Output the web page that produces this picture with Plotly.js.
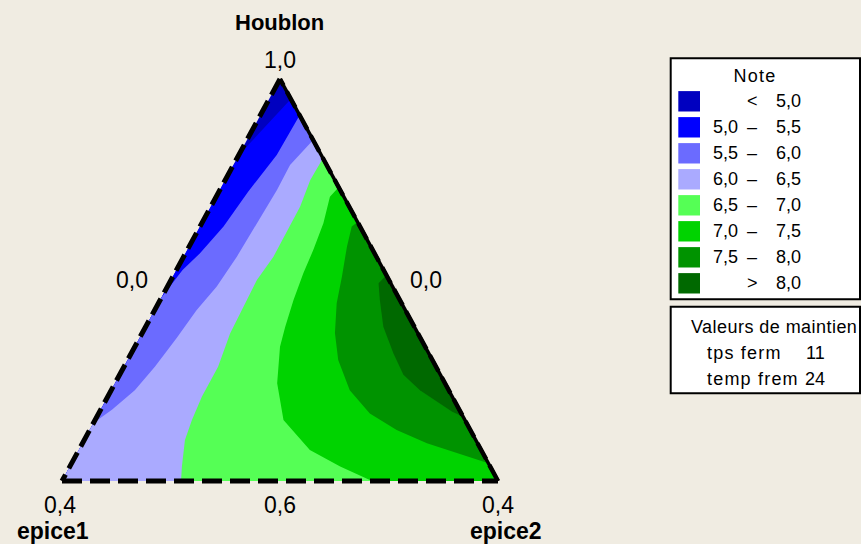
<!DOCTYPE html>
<html>
<head>
<meta charset="utf-8">
<script src="https://cdn.plot.ly/plotly-3.0.1.min.js"></script>
<style>html,body{margin:0;padding:0;background:#F0ECE2;}#chart{width:861px;height:544px;}</style>
</head>
<body>
<div id="chart"></div>
<script>
// ---------- DATA (pseudo-component fractions) ----------
// Contour levels of "Note" and band colours
const levels = ['5,0', '5,5', '6,0', '6,5', '7,0', '7,5', '8,0'];
const bandColors = ['#0000C0', '#0000FF', '#6B6BFF', '#AAAAFF', '#55FF55', '#00D300', '#009300', '#006900'];
const bandLow  = ['',  '5,0', '5,5', '6,0', '6,5', '7,0', '7,5', ''];
const bandSym  = ['<', '–',   '–',   '–',   '–',   '–',   '–',   '>'];
const bandHigh = ['5,0', '5,5', '6,0', '6,5', '7,0', '7,5', '8,0', '8,0'];

// Each contour line: Houblon fraction and epice2 fraction along the line
const c50_houblon = [0.950, 0.886, 0.832, 0.782];
const c50_epice2  = [0.050, 0.026, 0.008, 0.000];

const c55_houblon = [0.910, 0.811, 0.719, 0.633, 0.566, 0.525, 0.458];
const c55_epice2  = [0.090, 0.087, 0.067, 0.054, 0.033, 0.014, 0.000];

const c60_houblon = [0.848, 0.786, 0.724, 0.641, 0.558, 0.483, 0.425, 0.356, 0.284, 0.226, 0.177, 0.144];
const c60_epice2  = [0.152, 0.130, 0.131, 0.126, 0.122, 0.113, 0.096, 0.085, 0.071, 0.054, 0.026, 0.000];

const c65_houblon = [0.803, 0.749, 0.682, 0.624, 0.558, 0.500, 0.434, 0.367, 0.338, 0.284, 0.210, 0.152, 0.102, 0.036, 0.000];
const c65_epice2  = [0.197, 0.195, 0.205, 0.206, 0.206, 0.197, 0.199, 0.202, 0.207, 0.216, 0.216, 0.222, 0.231, 0.257, 0.273];

const c70_houblon = [0.731, 0.707, 0.641, 0.575, 0.517, 0.450, 0.384, 0.334, 0.243, 0.152, 0.077, 0.036, 0.000];
const c70_epice2  = [0.269, 0.261, 0.279, 0.289, 0.295, 0.306, 0.320, 0.333, 0.372, 0.432, 0.530, 0.620, 0.711];

const c75_houblon = [0.644, 0.633, 0.583, 0.508, 0.442, 0.368, 0.301, 0.226, 0.168, 0.127, 0.094, 0.069, 0.044];
const c75_epice2  = [0.356, 0.348, 0.362, 0.388, 0.409, 0.442, 0.483, 0.547, 0.622, 0.704, 0.790, 0.871, 0.956];

const c80_houblon = [0.512, 0.492, 0.450, 0.384, 0.318, 0.264, 0.226, 0.193, 0.172, 0.160];
const c80_epice2  = [0.488, 0.480, 0.504, 0.545, 0.601, 0.651, 0.708, 0.770, 0.809, 0.840];

// Vertex and side tick labels
const vertexNames = ['Houblon', 'epice1', 'epice2'];
const topTick = '1,0';
const sideTicks = ['0,0', '0,0'];
const bottomTicks = ['0,4', '0,6', '0,4'];

// Hold values
const holdNames = ['tps ferm', 'temp frem'];
const holdValues = ['11', '24'];
const holdTitle = 'Valeurs de maintien';
const legendTitle = 'Note';

// ---------- BUILD ----------
const W = 861, H = 544;
const X0 = 62, X1 = 498, YB = 481, YT = 79, PAD = 0.05;
const FONT = 'Liberation Sans, Arial, sans-serif';

function tx(h, e2) { return e2 + h / 2; }
function ty(h) { return h; }

const corner = { T: [1, 0], L: [0, 0], R: [0, 1] }; // [houblon, epice2]

const contours = [
  [c50_houblon, c50_epice2, ['L', 'R']],
  [c55_houblon, c55_epice2, ['L', 'R']],
  [c60_houblon, c60_epice2, ['L', 'R']],
  [c65_houblon, c65_epice2, ['R']],
  [c70_houblon, c70_epice2, ['R']],
  [c75_houblon, c75_epice2, []],
  [c80_houblon, c80_epice2, []]
];

const traces = [];
traces.push({
  x: ['T', 'L', 'R', 'T'].map(k => tx(corner[k][0], corner[k][1])),
  y: ['T', 'L', 'R', 'T'].map(k => ty(corner[k][0])),
  mode: 'lines', fill: 'toself', fillcolor: bandColors[0],
  line: { width: 0, color: bandColors[0] }, hoverinfo: 'skip', showlegend: false
});
contours.forEach((c, i) => {
  const hs = c[0].slice(), es = c[1].slice();
  c[2].forEach(k => { hs.push(corner[k][0]); es.push(corner[k][1]); });
  hs.push(c[0][0]); es.push(c[1][0]);
  traces.push({
    x: hs.map((h, j) => tx(h, es[j])),
    y: hs.map(h => ty(h)),
    mode: 'lines', fill: 'toself', fillcolor: bandColors[i + 1],
    line: { width: 0, color: bandColors[i + 1] }, hoverinfo: 'skip', showlegend: false,
    name: levels[i]
  });
});

function edge(a, b, dash, width) {
  return {
    x: [tx(corner[a][0], corner[a][1]), tx(corner[b][0], corner[b][1])],
    y: [ty(corner[a][0]), ty(corner[b][0])],
    mode: 'lines', line: { color: '#000', width: width, dash: dash },
    hoverinfo: 'skip', showlegend: false
  };
}
traces.push(edge('T', 'R', 'solid', 3.5));
traces.push(edge('R', 'T', '18px,7px', 4.5));
traces.push(edge('T', 'L', '18px,7px', 5));
traces.push(edge('L', 'R', '20px,8px', 5));

const fx = p => p / W;
const fy = p => 1 - p / H;

const annotations = [];
const spaced = {};
function txt(text, x, y, size, opts, sp) {
  const o = Object.assign({
    text: text, xref: 'paper', yref: 'paper', x: fx(x), y: fy(y),
    xanchor: 'center', yanchor: 'middle', showarrow: false,
    font: { family: FONT, size: size, color: '#000' }
  }, opts || {});
  if (sp) spaced[annotations.length] = { n: text.length, anchor: o.xanchor, ls: sp };
  annotations.push(o);
}
txt('<b>' + vertexNames[0] + '</b>', 279.5, 23, 22);
txt('<b>' + vertexNames[1] + '</b>', 52.5, 531, 23);
txt('<b>' + vertexNames[2] + '</b>', 506, 531, 23);
txt(topTick, 279.6, 60, 23);
txt(sideTicks[0], 132, 280, 23);
txt(sideTicks[1], 426, 280, 23);
txt(bottomTicks[0], 59.6, 505, 23);
txt(bottomTicks[1], 279.6, 505, 23);
txt(bottomTicks[2], 497.7, 505, 23);

const shapes = [];
function rect(x0, y0, x1, y1, fill, lw, lc) {
  shapes.push({ type: 'rect', xref: 'paper', yref: 'paper',
    x0: fx(x0), x1: fx(x1), y0: fy(y1), y1: fy(y0),
    fillcolor: fill, line: { width: lw, color: lc || '#000' }, layer: 'below' });
}
rect(670.7, 58.3, 860, 299.3, '#FFFFFF', 2);
txt(legendTitle, 755, 76, 18, null, 1.2);
bandColors.forEach((col, k) => {
  const yc = 101.3 + 26 * k;
  rect(678.3, yc - 10.2, 700, yc + 10.2, col, 0);
  if (bandLow[k]) txt(bandLow[k], 740, yc, 18, { xanchor: 'right' });
  txt(bandSym[k], 752, yc, 18);
  txt(bandHigh[k], 802.5, yc, 18, { xanchor: 'right' });
});
rect(670.7, 306.7, 860, 393.3, '#FFFFFF', 2);
txt(holdTitle, 689, 327, 18, { xanchor: 'left' }, 0.45);
holdNames.forEach((n, k) => {
  const yc = 353.3 + 26 * k;
  txt(n, 705, yc, 18, { xanchor: 'left' }, 1.2);
  txt(holdValues[k], 826.5, yc, 18, { xanchor: 'right' });
});

const xr = [-PAD, 1 + PAD], yr = [-PAD, 1 + PAD];
const layout = {
  width: W, height: H,
  margin: { l: 0, r: 0, t: 0, b: 0, pad: 0 },
  paper_bgcolor: '#F0ECE2', plot_bgcolor: 'rgba(0,0,0,0)',
  xaxis: { range: xr, visible: false, fixedrange: true,
    domain: [(X0 - PAD * (X1 - X0)) / W, (X1 + PAD * (X1 - X0)) / W] },
  yaxis: { range: yr, visible: false, fixedrange: true,
    domain: [(H - (YB + PAD * (YB - YT))) / H, (H - (YT - PAD * (YB - YT))) / H] },
  showlegend: false,
  annotations: annotations,
  shapes: shapes
};
Plotly.newPlot('chart', traces, layout, { staticPlot: true, displayModeBar: false }).then(function () {
  document.querySelectorAll('g.annotation').forEach(function (g) {
    const idx = +g.getAttribute('data-index');
    const s = spaced[idx];
    if (!s) return;
    const t = g.querySelector('text');
    if (!t) return;
    t.style.letterSpacing = s.ls + 'px';
    if (s.anchor === 'left') {
      const x = parseFloat(t.getAttribute('x') || '0');
      t.setAttribute('x', x + s.n * s.ls / 2);
    }
  });
});
</script>
</body>
</html>
